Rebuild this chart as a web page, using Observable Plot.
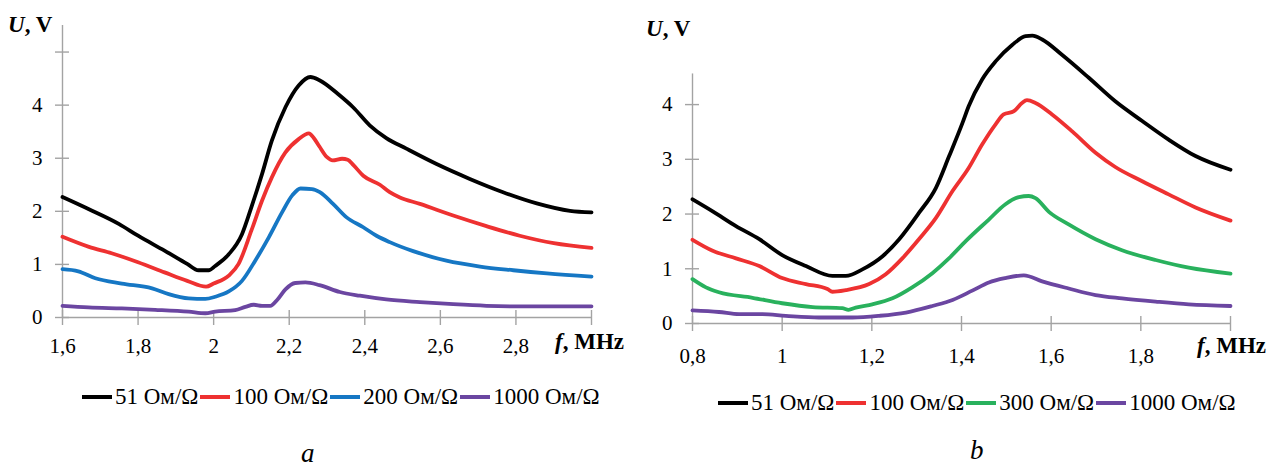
<!DOCTYPE html>
<html><head><meta charset="utf-8">
<script src="https://cdn.jsdelivr.net/npm/d3@7"></script>
<script src="https://cdn.jsdelivr.net/npm/@observablehq/plot@0.6"></script>
<style>
html,body{margin:0;padding:0;background:#fff;}
#wrap{position:relative;width:1279px;height:469px;overflow:hidden;font-family:'Liberation Serif',serif;color:#000;}
.panel{position:absolute;top:0;}
.lab{position:absolute;font-family:'Liberation Serif',serif;font-weight:bold;font-size:23px;line-height:1;white-space:nowrap;}
.legend{position:absolute;font-family:'Liberation Serif',serif;display:flex;align-items:center;font-size:23px;line-height:1;white-space:nowrap;}
.sw{display:inline-block;width:30px;height:4px;margin:0 3px 0 2px;}
.cap{position:absolute;font-family:'Liberation Serif',serif;font-style:italic;font-size:27px;line-height:1;}
svg text{font-family:'Liberation Serif',serif !important;}
</style>
</head><body>
<div id="wrap">
  <div id="pa" class="panel" style="left:0px"></div>
  <div id="pb" class="panel" style="left:640px"></div>
  <div class="lab" style="left:8px;top:13px"><i>U</i>, V</div>
  <div class="lab" style="left:646px;top:17px"><i>U</i>, V</div>
  <div class="lab" style="left:555px;top:330px"><i>f</i>, MHz</div>
  <div class="lab" style="left:1197px;top:334px"><i>f</i>, MHz</div>
  <div id="lega" class="legend" style="left:80px;top:385px"></div>
  <div id="legb" class="legend" style="left:716px;top:391px"></div>
  <div class="cap" style="left:301px;top:440px">a</div>
  <div class="cap" style="left:970px;top:437px">b</div>
</div>
<script>
// ---- data: panel a ----
const seriesA = ["51 Ом/Ω", "100 Ом/Ω", "200 Ом/Ω", "1000 Ом/Ω"];
const a51 = [[1.6,2.27],[1.67,2.04],[1.75,1.76],[1.80,1.54],[1.87,1.26],[1.93,1.01],[1.96,0.89],[1.987,0.89],[2.004,0.97],[2.04,1.19],[2.075,1.57],[2.10,2.08],[2.128,2.70],[2.154,3.33],[2.19,3.96],[2.225,4.37],[2.256,4.53],[2.28,4.47],[2.334,4.18],[2.369,3.96],[2.413,3.62],[2.457,3.38],[2.51,3.18],[2.59,2.89],[2.678,2.61],[2.766,2.36],[2.855,2.15],[2.943,2.01],[3.0,1.98]];
const a100 = [[1.6,1.52],[1.67,1.33],[1.73,1.21],[1.80,1.04],[1.87,0.85],[1.93,0.69],[1.98,0.58],[2.0,0.64],[2.04,0.79],[2.066,1.01],[2.10,1.64],[2.128,2.20],[2.154,2.64],[2.19,3.11],[2.225,3.36],[2.252,3.47],[2.265,3.38],[2.28,3.22],[2.30,3.02],[2.315,2.96],[2.34,2.99],[2.355,2.97],[2.37,2.87],[2.396,2.67],[2.44,2.50],[2.466,2.36],[2.493,2.26],[2.546,2.14],[2.634,1.92],[2.722,1.72],[2.81,1.54],[2.9,1.40],[3.0,1.31]];
const a200 = [[1.6,0.91],[1.642,0.87],[1.687,0.74],[1.757,0.64],[1.837,0.55],[1.881,0.44],[1.934,0.36],[1.978,0.35],[2.004,0.39],[2.04,0.49],[2.075,0.69],[2.11,1.07],[2.146,1.51],[2.181,1.98],[2.208,2.30],[2.23,2.43],[2.26,2.42],[2.281,2.36],[2.316,2.14],[2.351,1.89],[2.396,1.70],[2.431,1.54],[2.466,1.42],[2.528,1.25],[2.616,1.07],[2.705,0.96],[2.793,0.89],[2.882,0.83],[3.0,0.77]];
const a1000 = [[1.6,0.22],[1.669,0.19],[1.757,0.17],[1.845,0.145],[1.934,0.11],[1.978,0.08],[2.004,0.11],[2.057,0.14],[2.084,0.20],[2.106,0.24],[2.128,0.22],[2.15,0.22],[2.168,0.33],[2.19,0.53],[2.216,0.65],[2.243,0.66],[2.28,0.61],[2.334,0.48],[2.387,0.41],[2.457,0.34],[2.546,0.29],[2.634,0.25],[2.722,0.22],[2.81,0.21],[3.0,0.21]];
const xTicksA = [1.6, 1.8, 2.0, 2.2, 2.4, 2.6, 2.8, 3.0];
const xLabelsA = [1.6, 1.8, 2.0, 2.2, 2.4, 2.6, 2.8];
const yTicksA = [0, 1, 2, 3, 4, 5];
const yLabelsA = [0, 1, 2, 3, 4];

// ---- data: panel b ----
const seriesB = ["51 Ом/Ω", "100 Ом/Ω", "300 Ом/Ω", "1000 Ом/Ω"];
const b51 = [[0.8,2.27],[0.845,2.05],[0.897,1.78],[0.949,1.54],[1.0,1.25],[1.053,1.05],[1.112,0.87],[1.142,0.87],[1.179,0.99],[1.224,1.23],[1.261,1.54],[1.305,2.02],[1.343,2.48],[1.372,3.05],[1.402,3.66],[1.416,3.97],[1.446,4.46],[1.476,4.79],[1.513,5.09],[1.543,5.25],[1.558,5.26],[1.58,5.19],[1.624,4.91],[1.684,4.49],[1.743,4.06],[1.803,3.70],[1.862,3.36],[1.922,3.06],[2.0,2.81]];
const b100 = [[0.8,1.53],[0.845,1.33],[0.897,1.19],[0.949,1.05],[1.0,0.83],[1.053,0.72],[1.101,0.63],[1.112,0.58],[1.142,0.61],[1.194,0.72],[1.231,0.90],[1.268,1.19],[1.305,1.54],[1.343,1.93],[1.38,2.42],[1.416,2.84],[1.446,3.27],[1.476,3.64],[1.494,3.82],[1.517,3.88],[1.535,4.03],[1.546,4.08],[1.565,4.03],[1.602,3.82],[1.647,3.51],[1.699,3.12],[1.743,2.86],[1.803,2.60],[1.862,2.36],[1.922,2.12],[2.0,1.88]];
const b300 = [[0.8,0.81],[0.83,0.66],[0.859,0.57],[0.934,0.47],[1.0,0.37],[1.068,0.30],[1.134,0.28],[1.148,0.25],[1.164,0.29],[1.201,0.35],[1.246,0.46],[1.29,0.66],[1.335,0.92],[1.372,1.19],[1.41,1.51],[1.461,1.90],[1.498,2.18],[1.528,2.31],[1.55,2.33],[1.565,2.29],[1.595,2.04],[1.639,1.81],[1.699,1.54],[1.758,1.34],[1.833,1.16],[1.907,1.02],[2.0,0.91]];
const b1000 = [[0.8,0.24],[0.859,0.21],[0.904,0.17],[0.956,0.17],[1.008,0.14],[1.082,0.11],[1.157,0.11],[1.216,0.14],[1.276,0.20],[1.335,0.32],[1.38,0.43],[1.424,0.60],[1.461,0.75],[1.498,0.83],[1.539,0.88],[1.58,0.77],[1.639,0.64],[1.699,0.52],[1.758,0.46],[1.833,0.40],[1.907,0.35],[2.0,0.32]];
const xTicksB = [0.8, 1.0, 1.2, 1.4, 1.6, 1.8, 2.0];
const xLabelsB = [0.8, 1.0, 1.2, 1.4, 1.6, 1.8];
const yTicksB = [0, 1, 2, 3, 4];
const yLabelsB = [0, 1, 2, 3, 4];

const colorsA = ["#000000", "#ee3131", "#1677c4", "#6b46a1"];
const colorsB = ["#000000", "#ee3131", "#29b15d", "#6b46a1"];
const AXIS = "#a3a3a3";
const FONT = "Liberation Serif";
const fmt = d => String(d).replace(".", ",");

function toRows(lists, names) {
  return lists.flatMap((arr, i) => arr.map(([f, u]) => ({f, u, s: names[i]})));
}

function panel(rows, names, colors, o) {
  return Plot.plot({
    width: o.width, height: 370,
    marginLeft: o.ml, marginRight: o.mr, marginTop: o.mt, marginBottom: o.mb,
    x: {domain: o.xDomain, label: null},
    y: {domain: [0, 5.5], label: null},
    color: {domain: names, range: colors},
    style: `font-family: '${FONT}', serif; font-size: 21px; color: #000; background: transparent; overflow: visible;`,
    marks: [
      Plot.ruleY([0], {stroke: AXIS, strokeWidth: 1.4}),
      Plot.ruleX([o.xDomain[0]], {y1: 0, y2: o.yTop, stroke: AXIS, strokeWidth: 1.4}),
      Plot.axisX(o.xTicks, {tickSize: 15, dy: -7, stroke: AXIS, strokeWidth: 1.4, tickFormat: () => ""}),
      Plot.axisX(o.xLabels, {tickSize: 0, tickPadding: o.xPad, tickFormat: fmt, fontSize: 21, fontFamily: FONT, fill: "#000"}),
      Plot.axisY(o.yTicks, {tickSize: 14, dx: 7, stroke: AXIS, strokeWidth: 1.4, tickFormat: () => ""}),
      Plot.axisY(o.yLabels, {tickSize: 0, tickPadding: 20, tickFormat: d => String(d), fontSize: 21, fontFamily: FONT, fill: "#000"}),
      Plot.line(rows, {x: "f", y: "u", z: "s", stroke: "s", strokeWidth: 3.8, curve: "monotone-x", strokeLinejoin: "round"})
    ]
  });
}

document.getElementById("pa").append(panel(
  toRows([a51, a100, a200, a1000], seriesA), seriesA, colorsA,
  {width: 640, ml: 62, mr: 49, mt: 25, mb: 53, xDomain: [1.6, 3.0], yTop: 5.5,
   xTicks: xTicksA, xLabels: xLabelsA, yTicks: yTicksA, yLabels: yLabelsA, xPad: 21}
));
document.getElementById("pb").append(panel(
  toRows([b51, b100, b300, b1000], seriesB), seriesB, colorsB,
  {width: 639, ml: 52, mr: 49, mt: 22, mb: 47, xDomain: [0.8, 2.0], yTop: 4.56,
   xTicks: xTicksB, xLabels: xLabelsB, yTicks: yTicksB, yLabels: yLabelsB, xPad: 25}
));

function legend(el, names, colors) {
  names.forEach((n, i) => {
    const sw = document.createElement("span");
    sw.className = "sw"; sw.style.background = colors[i];
    const t = document.createElement("span");
    t.textContent = n;
    el.append(sw, t);
  });
}
legend(document.getElementById("lega"), seriesA, colorsA);
legend(document.getElementById("legb"), seriesB, colorsB);
</script>
</body></html>
